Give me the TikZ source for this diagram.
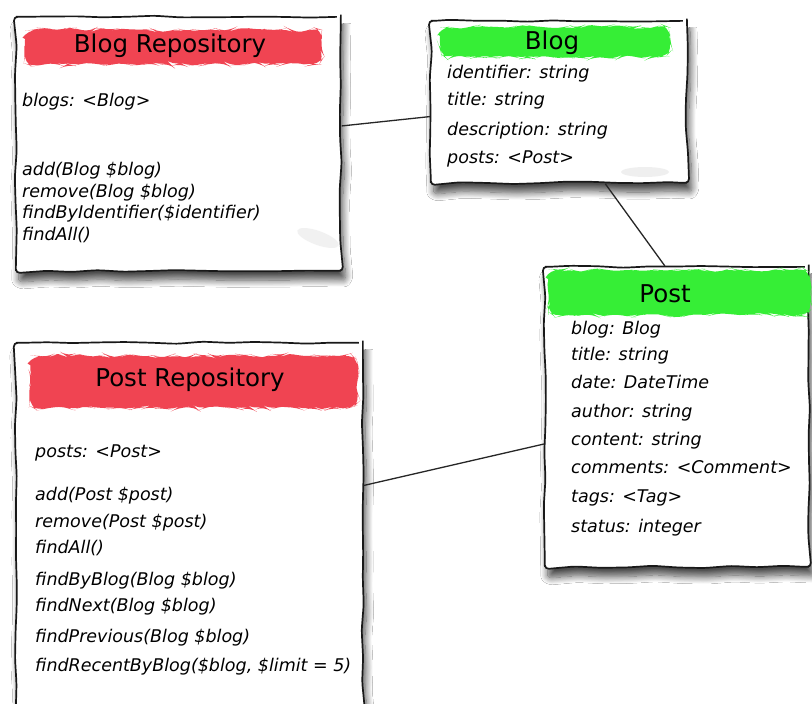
\documentclass[tikz,border=0pt]{standalone}
\usepackage{fontspec}
\setmainfont{DejaVu Sans}
\newfontfamily\handfont{DejaVu Sans}
\usetikzlibrary{decorations.pathmorphing,shadows.blur,calc}

\definecolor{markred}{RGB}{240,68,82}
\definecolor{markgreen}{RGB}{54,238,54}
\definecolor{smudge}{RGB}{225,225,225}

\tikzset{
  card/.style={draw=black!90, fill=white, line width=1.7pt, rounded corners=4pt,
    decorate, decoration={random steps, segment length=26pt, amplitude=1.2pt},
    anchor=north west, inner sep=0pt,
    blur shadow={shadow xshift=3pt, shadow yshift=-9pt, shadow blur radius=7pt,
      shadow blur steps=12, shadow opacity=70}},
  marker/.style={fill=#1, rounded corners=9pt,
    decorate, decoration={random steps, segment length=7pt, amplitude=2.2pt}},
  heading/.style={font=\handfont\fontsize{24.5}{28}\selectfont, inner sep=0pt, anchor=center},
  entry/.style={font=\handfont\fontsize{17.5}{20}\selectfont\itshape, inner sep=0pt, anchor=base west},
  link/.style={draw=black!85, line width=1.3pt},
}

\begin{document}
\begin{tikzpicture}[x=1pt,y=-1pt]
\pgfmathsetseed{4242}
\useasboundingbox (0,0) rectangle (812,704);
\fill[white] (0,0) rectangle (812,704);

% class cards
\node[card, minimum width=325pt, minimum height=254pt] (brepo) at (15,16) {};
\node[card, minimum width=256pt, minimum height=162pt] (blog) at (430,20) {};
\node[card, minimum width=264pt, minimum height=300pt] (post) at (544,266) {};
\node[card, minimum width=347pt, minimum height=370pt] (prepo) at (15,342) {};

% faint smudges
\fill[smudge, opacity=0.45, rotate around={-20:(318,238)}] (318,238) ellipse (22pt and 7pt);
\fill[smudge, opacity=0.5] (645,172) ellipse (24pt and 5pt);

% title markers
\fill[marker=markred]   (25,30) rectangle (322,64);
\fill[marker=markgreen] (440,27) rectangle (670,57);
\fill[marker=markgreen] (548,270) rectangle (810,315);
\fill[marker=markred]   (30,356) rectangle (358,408);

% Blog Repository
\node[heading] (brepo-t) at (170,46) {Blog Repository};
\node[entry] (brepo-a) at (22,106) {blogs: <Blog>};
\node[entry] (brepo-m1) at (22,175) {add(Blog \$blog)};
\node[entry] (brepo-m2) at (22,197) {remove(Blog \$blog)};
\node[entry] (brepo-m3) at (22,218) {findByIdentifier(\$identifier)};
\node[entry] (brepo-m4) at (22,240) {findAll()};

% Blog
\node[heading] (blog-t) at (552,43) {Blog};
\node[entry] (blog-a1) at (447,78) {identifier: string};
\node[entry] (blog-a2) at (447,105) {title: string};
\node[entry] (blog-a3) at (447,135) {description: string};
\node[entry] (blog-a4) at (447,163) {posts: <Post>};

% Post
\node[heading] (post-t) at (665,294) {Post};
\node[entry] (post-a1) at (571,334) {blog: Blog};
\node[entry] (post-a2) at (571,360) {title: string};
\node[entry] (post-a3) at (571,388) {date: DateTime};
\node[entry] (post-a4) at (571,417) {author: string};
\node[entry] (post-a5) at (571,445) {content: string};
\node[entry] (post-a6) at (571,473) {comments: <Comment>};
\node[entry] (post-a7) at (571,502) {tags: <Tag>};
\node[entry] (post-a8) at (571,532) {status: integer};

% Post Repository
\node[heading] (prepo-t) at (190,380) {Post Repository};
\node[entry] (prepo-a) at (35,457) {posts: <Post>};
\node[entry] (prepo-m1) at (35,500) {add(Post \$post)};
\node[entry] (prepo-m2) at (35,527) {remove(Post \$post)};
\node[entry] (prepo-m3) at (35,553) {findAll()};
\node[entry] (prepo-m4) at (35,585) {findByBlog(Blog \$blog)};
\node[entry] (prepo-m5) at (35,611) {findNext(Blog \$blog)};
\node[entry] (prepo-m6) at (35,642) {findPrevious(Blog \$blog)};
\node[entry] (prepo-m7) at (35,671) {findRecentByBlog(\$blog, \$limit = 5)};

% associations
\draw[link] ($(brepo.north east)!0.43!(brepo.south east)$) -- ($(blog.north west)!0.59!(blog.south west)$);
\draw[link] ($(blog.south west)!0.68!(blog.south east)$) -- ($(post.north west)!0.455!(post.north east)$);
\draw[link] ($(prepo.north east)!0.386!(prepo.south east)$) -- ($(post.north west)!0.59!(post.south west)$);
\end{tikzpicture}
\end{document}
